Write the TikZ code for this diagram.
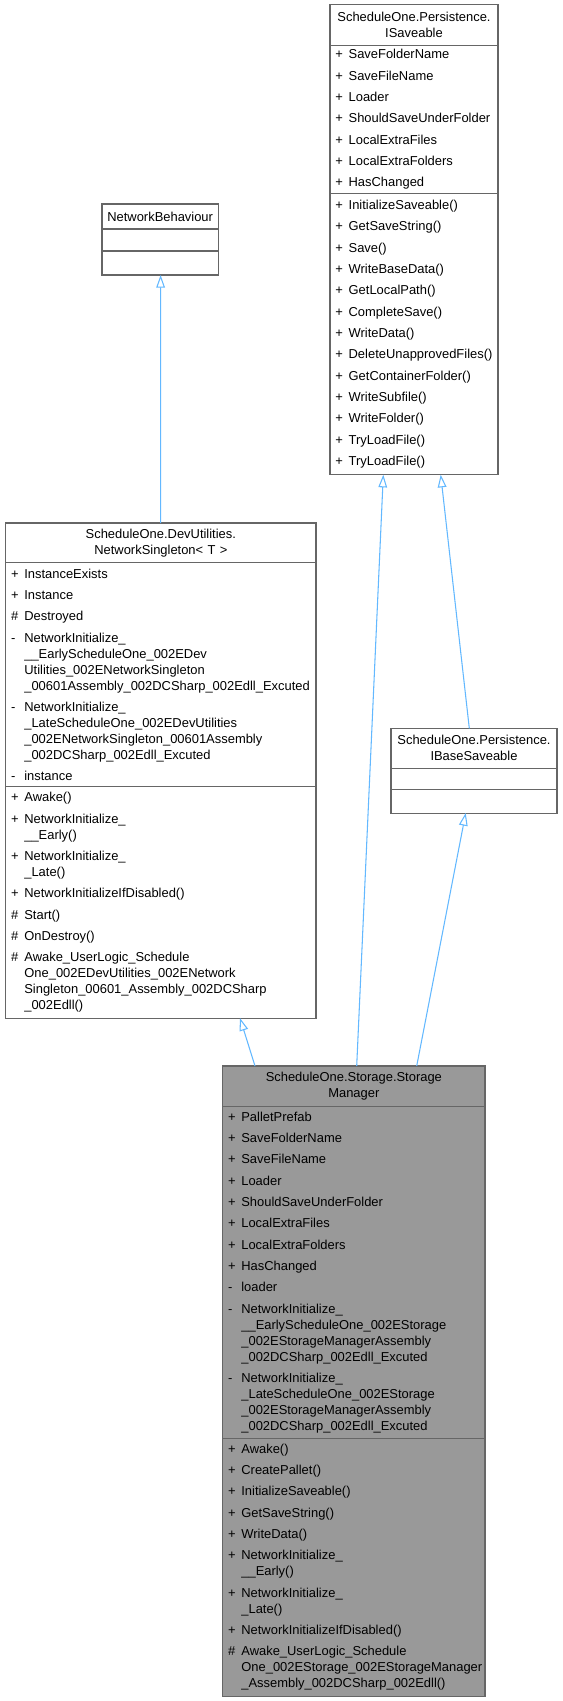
\documentclass[tikz,border=0pt]{standalone}
\usepackage{fontspec}
\setmainfont{Liberation Sans}
\usetikzlibrary{positioning,arrows.meta,calc}

\definecolor{edgeblue}{HTML}{63B8FF}
\definecolor{boxline}{HTML}{666666}
\definecolor{curfill}{HTML}{999999}

\newcommand{\vis}[1]{\makebox[10pt][l]{#1}}
\newcommand{\cont}{\hspace*{10pt}}

\begin{document}
\begin{tikzpicture}[x=0.75pt, y=-0.75pt,
        classpart/.style={draw=boxline, line width=0.8pt, fill=white, anchor=north west,
            inner xsep=4pt, inner ysep=0pt, outer sep=0pt, font=\fontsize{9.7}{12}\selectfont},
        classhead/.style={classpart, align=center},
        classbody/.style={classpart, align=left},
        current/.style={fill=curfill},
        inherit/.style={draw=edgeblue, line width=0.8pt, -{Triangle[open, length=9.5pt, width=6.5pt]}}]
        \useasboundingbox (0,0) rectangle (562,1701);

        % NetworkBehaviour
        \node[classhead, text width=79.2pt, minimum height=18.75pt] (nbt) at (102,204) {NetworkBehaviour};
        \node[classbody, text width=79.2pt, minimum height=16.5pt] (nba) at (nbt.south west) {};
        \node[classbody, text width=79.2pt, minimum height=18pt] (nbm) at (nba.south west) {};

        % ScheduleOne.DevUtilities.NetworkSingleton< T >
        \node[classhead, text width=224.7pt, minimum height=29.8pt] (nst) at (5.7,523)
            {ScheduleOne.DevUtilities.\\NetworkSingleton< T >};
        \node[classbody, text width=224.7pt, minimum height=168pt] (nsa) at (nst.south west) {%
            \vis{+}InstanceExists\\[4pt]
            \vis{+}Instance\\[4pt]
            \vis{\#}Destroyed\\[4pt]
            \vis{-}NetworkInitialize\_\\
            \cont\_\_EarlyScheduleOne\_002EDev\\
            \cont Utilities\_002ENetworkSingleton\\
            \cont\_00601Assembly\_002DCSharp\_002Edll\_Excuted\\[4pt]
            \vis{-}NetworkInitialize\_\\
            \cont\_LateScheduleOne\_002EDevUtilities\\
            \cont\_002ENetworkSingleton\_00601Assembly\\
            \cont\_002DCSharp\_002Edll\_Excuted\\[4pt]
            \vis{-}instance};
        \node[classbody, text width=224.7pt, minimum height=173.5pt] (nsm) at (nsa.south west) {%
            \vis{+}Awake()\\[4pt]
            \vis{+}NetworkInitialize\_\\
            \cont\_\_Early()\\[4pt]
            \vis{+}NetworkInitialize\_\\
            \cont\_Late()\\[4pt]
            \vis{+}NetworkInitializeIfDisabled()\\[4pt]
            \vis{\#}Start()\\[4pt]
            \vis{\#}OnDestroy()\\[4pt]
            \vis{\#}Awake\_UserLogic\_Schedule\\
            \cont One\_002EDevUtilities\_002ENetwork\\
            \cont Singleton\_00601\_Assembly\_002DCSharp\\
            \cont\_002Edll()};

        % ScheduleOne.Persistence.ISaveable
        \node[classhead, text width=118pt, minimum height=31pt] (ist) at (330,4.3)
            {ScheduleOne.Persistence.\\ISaveable};
        \node[classbody, text width=118pt, minimum height=110.9pt] (isa) at (ist.south west) {%
            \vis{+}SaveFolderName\\[4pt]
            \vis{+}SaveFileName\\[4pt]
            \vis{+}Loader\\[4pt]
            \vis{+}ShouldSaveUnderFolder\\[4pt]
            \vis{+}LocalExtraFiles\\[4pt]
            \vis{+}LocalExtraFolders\\[4pt]
            \vis{+}HasChanged};
        \node[classbody, text width=118pt, minimum height=210.9pt] (ism) at (isa.south west) {%
            \vis{+}InitializeSaveable()\\[4pt]
            \vis{+}GetSaveString()\\[4pt]
            \vis{+}Save()\\[4pt]
            \vis{+}WriteBaseData()\\[4pt]
            \vis{+}GetLocalPath()\\[4pt]
            \vis{+}CompleteSave()\\[4pt]
            \vis{+}WriteData()\\[4pt]
            \vis{+}DeleteUnapprovedFiles()\\[4pt]
            \vis{+}GetContainerFolder()\\[4pt]
            \vis{+}WriteSubfile()\\[4pt]
            \vis{+}WriteFolder()\\[4pt]
            \vis{+}TryLoadFile()\\[4pt]
            \vis{+}TryLoadFile()};

        % ScheduleOne.Persistence.IBaseSaveable
        \node[classhead, text width=116.5pt, minimum height=30pt] (ibt) at (391,728.3)
            {ScheduleOne.Persistence.\\IBaseSaveable};
        \node[classbody, text width=116.5pt, minimum height=15.75pt] (iba) at (ibt.south west) {};
        \node[classbody, text width=116.5pt, minimum height=17.8pt] (ibm) at (iba.south west) {};

        % ScheduleOne.Storage.StorageManager
        \node[classhead, current, text width=188.7pt, minimum height=30.4pt] (smt) at (222.7,1066)
            {ScheduleOne.Storage.Storage\\Manager};
        \node[classbody, current, text width=188.7pt, minimum height=248.9pt] (sma) at (smt.south west) {%
            \vis{+}PalletPrefab\\[4pt]
            \vis{+}SaveFolderName\\[4pt]
            \vis{+}SaveFileName\\[4pt]
            \vis{+}Loader\\[4pt]
            \vis{+}ShouldSaveUnderFolder\\[4pt]
            \vis{+}LocalExtraFiles\\[4pt]
            \vis{+}LocalExtraFolders\\[4pt]
            \vis{+}HasChanged\\[4pt]
            \vis{-}loader\\[4pt]
            \vis{-}NetworkInitialize\_\\
            \cont\_\_EarlyScheduleOne\_002EStorage\\
            \cont\_002EStorageManagerAssembly\\
            \cont\_002DCSharp\_002Edll\_Excuted\\[4pt]
            \vis{-}NetworkInitialize\_\\
            \cont\_LateScheduleOne\_002EStorage\\
            \cont\_002EStorageManagerAssembly\\
            \cont\_002DCSharp\_002Edll\_Excuted};
        \node[classbody, current, text width=188.7pt, minimum height=193.3pt] (smm) at (sma.south west) {%
            \vis{+}Awake()\\[4pt]
            \vis{+}CreatePallet()\\[4pt]
            \vis{+}InitializeSaveable()\\[4pt]
            \vis{+}GetSaveString()\\[4pt]
            \vis{+}WriteData()\\[4pt]
            \vis{+}NetworkInitialize\_\\
            \cont\_\_Early()\\[4pt]
            \vis{+}NetworkInitialize\_\\
            \cont\_Late()\\[4pt]
            \vis{+}NetworkInitializeIfDisabled()\\[4pt]
            \vis{\#}Awake\_UserLogic\_Schedule\\
            \cont One\_002EStorage\_002EStorageManager\\
            \cont\_Assembly\_002DCSharp\_002Edll()};

        % inheritance
        \draw[inherit] ($(nst.north west)+(154.9,0)$) -- ($(nbm.south west)+(58.6,0)$);
        \draw[inherit] ($(smt.north west)+(32.3,0)$) -- ($(nsm.south west)+(234.3,0)$);
        \draw[inherit] ($(smt.north west)+(134,0)$) -- ($(ism.south west)+(53.3,0)$);
        \draw[inherit] ($(smt.north west)+(194,0)$) -- ($(ibm.south west)+(74.7,0)$);
        \draw[inherit] ($(ibt.north west)+(78.3,0)$) -- ($(ism.south west)+(110.7,0)$);
    \end{tikzpicture}
\end{document}
